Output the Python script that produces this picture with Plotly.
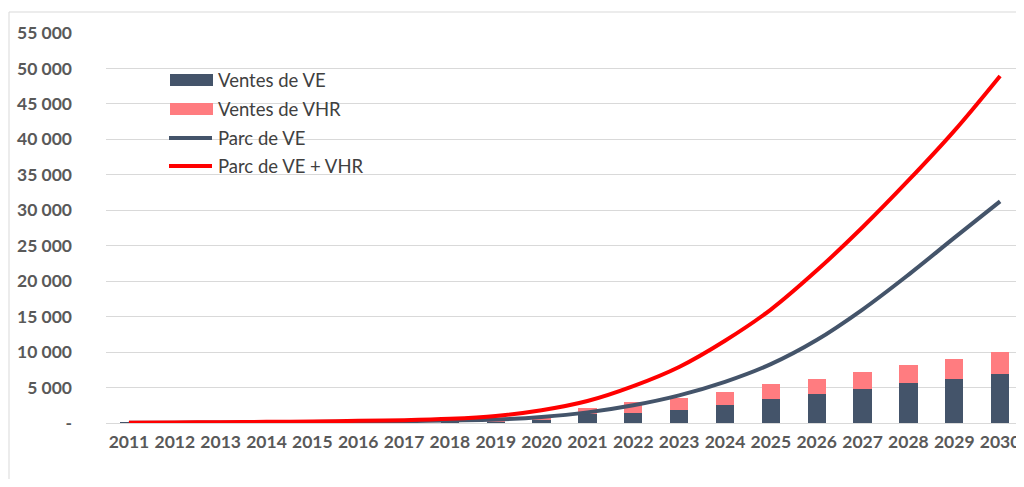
import plotly.graph_objects as go

years = [str(y) for y in range(2011, 2031)]
ventes_ve = [10, 20, 30, 40, 60, 80, 110, 150, 220, 450, 1300, 1400, 1900, 2500, 3350, 4100, 4750, 5600, 6200, 6900]
ventes_vhr = [0, 0, 10, 10, 20, 30, 40, 50, 150, 400, 800, 1550, 1600, 1870, 2120, 2160, 2400, 2540, 2830, 3100]
parc_ve = [20, 40, 70, 100, 140, 190, 260, 350, 480, 850, 1500, 2500, 3900, 5800, 8300, 11700, 16000, 20900, 26100, 31250]
parc_ve_vhr = [40, 70, 110, 160, 220, 300, 400, 600, 1000, 1800, 3100, 5200, 7900, 11600, 16000, 21500, 27600, 34200, 41200, 48950]

y_ticks = [0, 5000, 10000, 15000, 20000, 25000, 30000, 35000, 40000, 45000, 50000, 55000]
y_ticktext = ["-", "5 000", "10 000", "15 000", "20 000", "25 000", "30 000", "35 000", "40 000", "45 000", "50 000", "55 000"]

legend_names = ["Ventes de VE", "Ventes de VHR", "Parc de VE", "Parc de VE + VHR"]
c_ve = "#44546A"
c_vhr = "#FF7C80"
c_red = "#FF0000"

fig = go.Figure()
fig.add_bar(x=years, y=ventes_ve, name=legend_names[0], marker_color=c_ve, marker_line_width=0)
fig.add_bar(x=years, y=ventes_vhr, name=legend_names[1], marker_color=c_vhr, marker_line_width=0)
fig.add_scatter(x=years, y=parc_ve, name=legend_names[2], mode="lines",
                line=dict(color=c_ve, width=4, shape="spline"))
fig.add_scatter(x=years, y=parc_ve_vhr, name=legend_names[3], mode="lines",
                line=dict(color=c_red, width=4, shape="spline"))

# page body has an 8px margin; work in screen pixels and convert
OFF = 8
W, H = 1024 - OFF, 471
SL, SR, ST, SB = 106, 1023, 33, 423   # plot area in screen pixels
L = SL - OFF
T = ST - OFF
R = W - (SR - OFF)
B = H - (SB - OFF)
pw, ph = SR - SL, SB - ST

def px(x):
    return (x - SL) / pw

def py(y):
    return (SB - y) / ph

shapes = []
annotations = []
leg_rows = [80, 109, 138, 166]
for i, (name, yy) in enumerate(zip(legend_names, leg_rows)):
    if i < 2:
        shapes.append(dict(type="rect", xref="paper", yref="paper",
                           x0=px(170), x1=px(213), y0=py(yy - 6), y1=py(yy + 6),
                           fillcolor=[c_ve, c_vhr][i], line_width=0))
    else:
        shapes.append(dict(type="line", xref="paper", yref="paper",
                           x0=px(169), x1=px(212), y0=py(yy), y1=py(yy),
                           line=dict(color=[c_ve, c_red][i - 2], width=4)))
    annotations.append(dict(xref="paper", yref="paper", x=px(216), y=py(yy),
                            xanchor="left", yanchor="middle", text=name, showarrow=False,
                            font=dict(family="Lato", size=18.5, color="#404040")))
shapes.append(dict(type="line", xref="paper", yref="paper", x0=px(9), x1=px(9), y0=py(12), y1=py(500),
                   line=dict(color="#d9d9d9", width=1)))
shapes.append(dict(type="line", xref="paper", yref="paper", x0=px(9), x1=px(1040), y0=py(12), y1=py(12),
                   line=dict(color="#d9d9d9", width=1)))

fig.update_layout(
    width=W, height=H,
    margin=dict(l=L, r=R, t=T, b=B),
    barmode="stack", bargap=0.6,
    plot_bgcolor="white", paper_bgcolor="white",
    showlegend=False,
    shapes=shapes, annotations=annotations,
    font=dict(family="Lato", color="#595959"),
)
fig.update_xaxes(showgrid=False, showline=False, ticks="",
                 tickfont=dict(family="Lato", size=17.5, color="#595959", weight="bold"),
                 ticklabelstandoff=6)
fig.update_yaxes(range=[0, 55000], tickvals=y_ticks, ticktext=y_ticktext,
                 showgrid=True, gridcolor="#d9d9d9", gridwidth=1, zeroline=True,
                 zerolinecolor="#d9d9d9", zerolinewidth=1, showline=False, ticks="",
                 tickfont=dict(family="Lato", size=17.5, color="#595959", weight="bold"),
                 ticklabelstandoff=33)

fig.write_html("out.html")
